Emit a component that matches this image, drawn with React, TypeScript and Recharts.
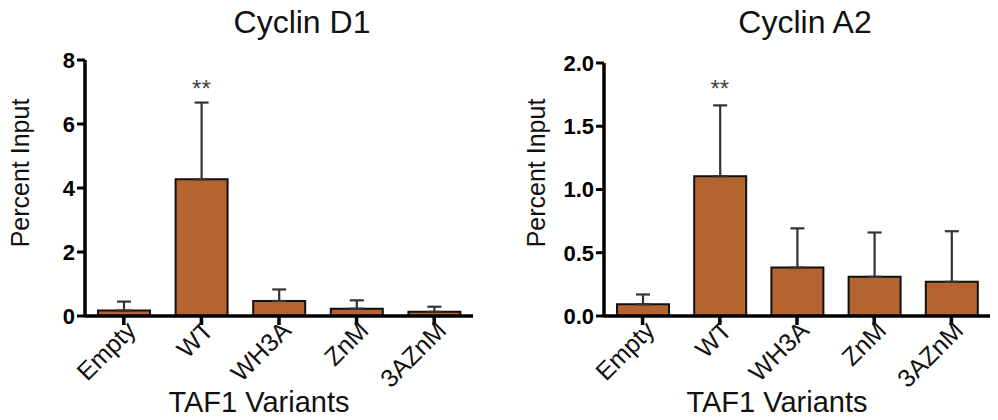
import React from 'react';
import { BarChart, Bar, XAxis, YAxis, ErrorBar, ReferenceDot } from 'recharts';

// variants tested in both ChIP panels
const variants = ['Empty', 'WT', 'WH3A', 'ZnM', '3AZnM'];

// Cyclin D1 promoter, percent input (mean and upper SEM)
const d1Mean = [0.17, 4.27, 0.47, 0.23, 0.13];
const d1Err = [0.28, 2.4, 0.36, 0.26, 0.16];
const d1Ticks = [0, 2, 4, 6, 8];
const d1Sig = 7.12;

// Cyclin A2 promoter
const a2Mean = [0.093, 1.105, 0.383, 0.31, 0.27];
const a2Err = [0.077, 0.56, 0.31, 0.35, 0.4];
const a2Ticks = [0, 0.5, 1.0, 1.5, 2.0];
const a2Sig = 1.8;

const FONT = '"Liberation Sans", Arial, Helvetica, sans-serif';
const BAR_FILL = '#b4642f';

const buildRows = (means: number[], errs: number[]) =>
  variants.map((name, i) => ({ name, value: means[i], err: [0, errs[i]] }));

// rotated category labels under the x axis
const AngledTick = ({ x, y, payload }: any) => (
  <g transform={`translate(${x},${y})`}>
    <text
      x={0}
      y={0}
      dx={6}
      dy={13}
      textAnchor="end"
      transform="rotate(-45)"
      fontSize={25}
      fontFamily={FONT}
      fill="#111"
    >
      {payload.value}
    </text>
  </g>
);

interface PanelProps {
  rows: { name: string; value: number; err: number[] }[];
  ticks: number[];
  sig: number;
  margin: { top: number; right: number; bottom: number; left: number };
  decimals: number;
}

function Panel({ rows, ticks, sig, margin, decimals }: PanelProps) {
  return (
    <BarChart width={499} height={420} data={rows} margin={margin} barCategoryGap={0}>
      <XAxis
        dataKey="name"
        axisLine={{ stroke: '#000', strokeWidth: 3.5 }}
        tickLine={{ stroke: '#000', strokeWidth: 3.5 }}
        tickSize={9}
        tick={<AngledTick />}
        interval={0}
        height={104 - margin.bottom}
      />
      <YAxis
        domain={[ticks[0], ticks[ticks.length - 1]]}
        ticks={ticks}
        interval={0}
        width={60}
        axisLine={{ stroke: '#000', strokeWidth: 3.5 }}
        tickLine={{ stroke: '#000', strokeWidth: 3 }}
        tickSize={8}
        tickMargin={2}
        tickFormatter={(v: number) => v.toFixed(decimals)}
        tick={{ fill: '#000', fontSize: 22, fontWeight: 700, fontFamily: FONT }}
      />
      <Bar
        dataKey="value"
        fill={BAR_FILL}
        stroke="#111"
        strokeWidth={2}
        barSize={52}
        isAnimationActive={false}
      >
        <ErrorBar dataKey="err" direction="y" width={7} stroke="#333" strokeWidth={2.2} />
      </Bar>
      <ReferenceDot
        x="WT"
        y={sig}
        r={0}
        stroke="none"
        fill="none"
        label={{ value: '**', position: 'center', fontSize: 24, fill: '#444', fontFamily: FONT }}
      />
    </BarChart>
  );
}

export default function App() {
  const d1Rows = buildRows(d1Mean, d1Err);
  const a2Rows = buildRows(a2Mean, a2Err);

  return (
    <div style={{ position: 'absolute', left: 0, top: 0, width: 998, height: 420, background: '#fff', fontFamily: FONT }}>
      <div style={{ position: 'absolute', left: 0, top: 0 }}>
        <Panel rows={d1Rows} ticks={d1Ticks} sig={d1Sig} decimals={0} margin={{ top: 60, right: 26, bottom: 0, left: 25 }} />
      </div>
      <div style={{ position: 'absolute', left: 499, top: 0 }}>
        <Panel rows={a2Rows} ticks={a2Ticks} sig={a2Sig} decimals={1} margin={{ top: 63, right: 8, bottom: 1, left: 45 }} />
      </div>
      {/* titles and axis titles */}
      <svg width={998} height={420} style={{ position: 'absolute', left: 0, top: 0, pointerEvents: 'none' }} fontFamily={FONT}>
        <text x={302} y={33} textAnchor="middle" fontSize={32} fill="#111">Cyclin D1</text>
        <text x={805} y={33} textAnchor="middle" fontSize={32} fill="#111">Cyclin A2</text>
        <text transform="translate(29,173) rotate(-90)" textAnchor="middle" fontSize={25} fill="#111">Percent Input</text>
        <text transform="translate(545,173) rotate(-90)" textAnchor="middle" fontSize={25} fill="#111">Percent Input</text>
        <text x={259} y={412} textAnchor="middle" fontSize={29} fill="#111">TAF1 Variants</text>
        <text x={777} y={412} textAnchor="middle" fontSize={29} fill="#111">TAF1 Variants</text>
      </svg>
    </div>
  );
}
